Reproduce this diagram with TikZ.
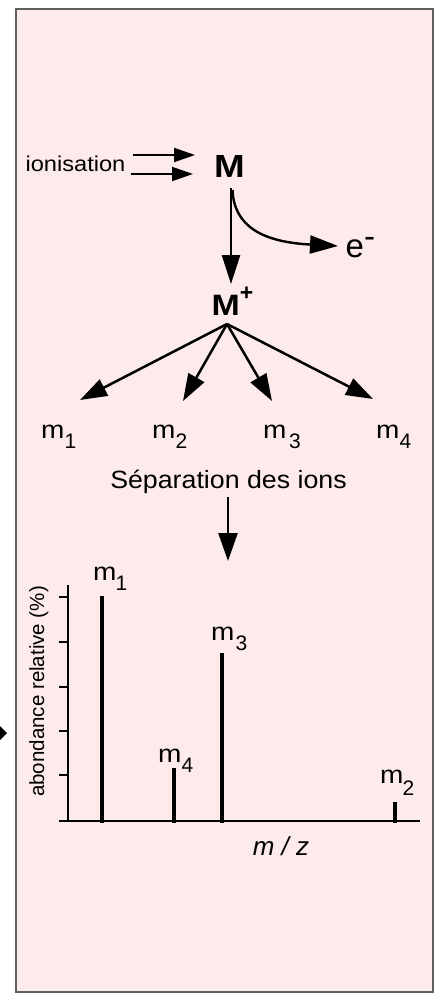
\documentclass[tikz,border=0pt]{standalone}
\usepackage{fontspec}
\setmainfont{Liberation Sans}
\usetikzlibrary{arrows.meta}
\definecolor{bgpink}{RGB}{253,234,234}
\definecolor{framegray}{RGB}{95,95,95}
\newcommand\fsz[1]{\fontsize{#1}{#1}\selectfont}
\newcommand\mlab[3]{\scalebox{1.12}[1]{m}\kern#1\raisebox{#2}{\fsz{21}#3}}
\begin{document}
\begin{tikzpicture}[x=1pt,y=-1pt,
  txt/.style={inner sep=0pt, outer sep=0pt},
  mlabel/.style={txt, anchor=base west, font=\fsz{25}},
  thinarr/.style={line width=1.9pt, -{Triangle[length=21pt,width=14pt]}},
  arr/.style={line width=2.5pt, -{Triangle[length=27pt,width=18pt]}},
  bigarr/.style={line width=2.5pt, -{Triangle[length=29pt,width=18pt]}},
  axisline/.style={line width=2pt},
  tickline/.style={line width=1.6pt},
  barline/.style={line width=4pt}]
\useasboundingbox (0,0) rectangle (435,993);
% frame
\draw[framegray, line width=1.3pt, fill=bgpink] (16,9) rectangle (433,992);
% small cut-off arrow tip at left
\fill (0,726) -- (7,733) -- (0,740) -- cycle;

% ionisation
\node[txt, anchor=base west, font=\fsz{21.5}] (ion) at (25.5,171) {\scalebox{1.1}[1]{ionisation}};
\coordinate (ionAs) at (133,155); \coordinate (ionAe) at (195,155);
\coordinate (ionBs) at (131,174); \coordinate (ionBe) at (193,174);
\draw[thinarr] (ionAs) -- (ionAe);
\draw[thinarr] (ionBs) -- (ionBe);

% M
\node[txt, anchor=base, font=\bfseries\fsz{32}] (M) at (229.5,177) {\scalebox{1.15}[1]{M}};
\coordinate (Mdown) at (231,188);
\coordinate (Mptip) at (231,284);
\draw[bigarr] (Mdown) -- (Mptip);
\coordinate (eStart) at (232.5,190);
\coordinate (eTip) at (338,246);
\draw[line width=2.4pt, -{Triangle[length=28pt,width=18pt]}] (eStart) .. controls (234,226) and (262,242) .. (eTip);
\node[txt, anchor=base west, font=\fsz{33}] (e) at (345.7,257) {e\raisebox{10pt}{-}};

% M+
\node[txt, anchor=base west, font=\bfseries\fsz{29.5}] (Mp) at (211.6,315) {\scalebox{1.15}[1]{M}\raisebox{15pt}{\fsz{23}+}};
\coordinate (apex) at (227,324);
\coordinate (t1) at (80,400);
\coordinate (t2) at (183,401);
\coordinate (t3) at (272,401);
\coordinate (t4) at (373,399);
\draw[arr] (apex) -- (t1);
\draw[arr] (apex) -- (t2);
\draw[arr] (apex) -- (t3);
\draw[arr] (apex) -- (t4);

% fragments
\node[mlabel] (m1) at (41.2,438) {\mlab{0pt}{-10pt}{1}};
\node[mlabel] (m2) at (152.2,438) {\mlab{0pt}{-10pt}{2}};
\node[mlabel] (m3) at (263.2,438) {\mlab{2.5pt}{-10pt}{3}};
\node[mlabel] (m4) at (376.2,438) {\mlab{0pt}{-10pt}{4}};

% separation
\node[txt, anchor=base, font=\fsz{25}] (sep) at (228.5,488) {\scalebox{1.07}[1]{Séparation des ions}};
\coordinate (sepS) at (228,497);
\coordinate (sepE) at (228,561);
\draw[bigarr, -{Triangle[length=28pt,width=19pt]}] (sepS) -- (sepE);

% chart axes
\coordinate (yTop) at (68,585);
\coordinate (origin) at (68,821);
\coordinate (xL) at (59,821);
\coordinate (xR) at (420,821);
\draw[axisline] (yTop) -- (origin);
\draw[axisline] (xL) -- (xR);
\foreach \yy in {597,642,687,731,775}{
  \draw[tickline] (59,\yy) -- (68,\yy);
}
% bars
\coordinate (b1t) at (102,596); \coordinate (b1b) at (102,823);
\coordinate (b4t) at (174,768); \coordinate (b4b) at (174,823);
\coordinate (b3t) at (222,653); \coordinate (b3b) at (222,823);
\coordinate (b2t) at (395,802); \coordinate (b2b) at (395,823);
\draw[barline] (b1t) -- (b1b);
\draw[barline] (b4t) -- (b4b);
\draw[barline] (b3t) -- (b3b);
\draw[barline] (b2t) -- (b2b);
% peak labels
\node[mlabel] (p1) at (93.2,580) {\mlab{-1pt}{-10pt}{1}};
\node[mlabel] (p3) at (211.2,640) {\mlab{1pt}{-10pt}{3}};
\node[mlabel] (p4) at (158.2,762) {\mlab{0pt}{-10pt}{4}};
\node[mlabel] (p2) at (380.2,783) {\mlab{-1pt}{-12pt}{2}};
% axis labels
\node[txt, anchor=base, rotate=90, font=\fsz{20.5}] (ylab) at (44,691.5) {abondance relative (\%)};
\node[txt, anchor=base, font=\itshape\fsz{26}] (xlab) at (281,855) {m / z};
\end{tikzpicture}
\end{document}
